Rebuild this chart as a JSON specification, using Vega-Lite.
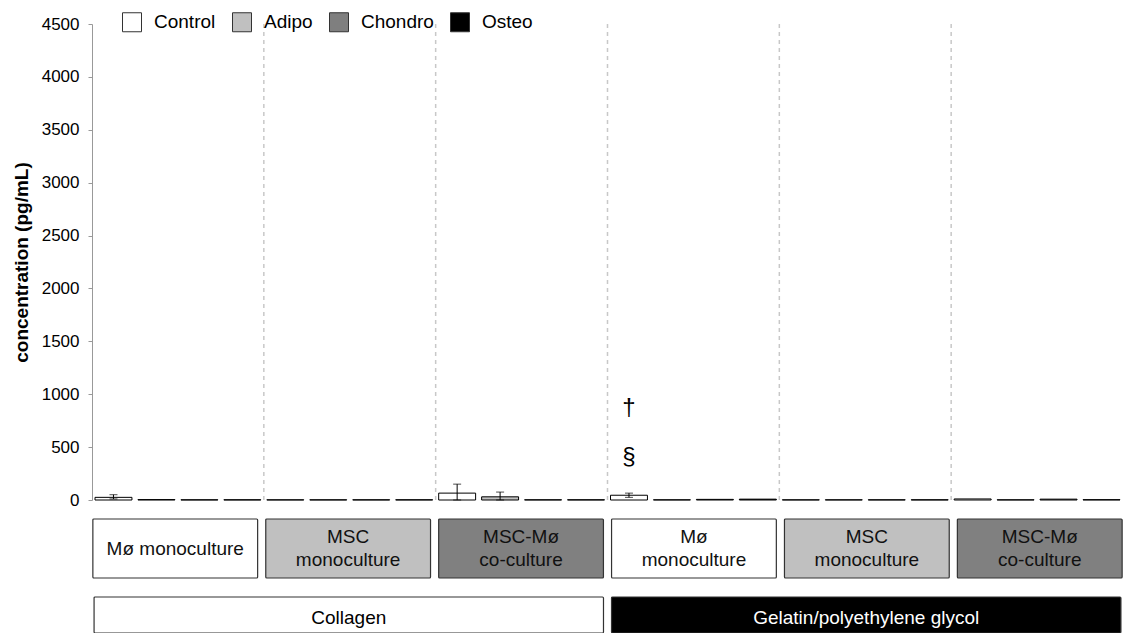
{
  "$schema": "https://vega.github.io/schema/vega-lite/v6.json",
  "padding": {"left": 12, "top": 12, "right": 0, "bottom": 0},
  "background": "#ffffff",
  "config": {"view": {"stroke": null}, "font": "Liberation Sans"},
  "bounds": "flush",
  "spacing": 19,
  "resolve": {"scale": {"x": "independent", "color": "independent", "fill": "independent"}, "legend": {"color": "independent"}},
  "datasets": {
    "bars": [
      {"group": "Collagen: Mø monoculture", "treatment": "Control", "value": 25},
      {"group": "Collagen: Mø monoculture", "treatment": "Adipo", "value": 4},
      {"group": "Collagen: Mø monoculture", "treatment": "Chondro", "value": 2},
      {"group": "Collagen: Mø monoculture", "treatment": "Osteo", "value": 2},
      {"group": "Collagen: MSC monoculture", "treatment": "Control", "value": 2},
      {"group": "Collagen: MSC monoculture", "treatment": "Adipo", "value": 2},
      {"group": "Collagen: MSC monoculture", "treatment": "Chondro", "value": 2},
      {"group": "Collagen: MSC monoculture", "treatment": "Osteo", "value": 2},
      {"group": "Collagen: MSC-Mø co-culture", "treatment": "Control", "value": 65},
      {"group": "Collagen: MSC-Mø co-culture", "treatment": "Adipo", "value": 30},
      {"group": "Collagen: MSC-Mø co-culture", "treatment": "Chondro", "value": 2},
      {"group": "Collagen: MSC-Mø co-culture", "treatment": "Osteo", "value": 2},
      {"group": "Gelatin/polyethylene glycol: Mø monoculture", "treatment": "Control", "value": 45},
      {"group": "Gelatin/polyethylene glycol: Mø monoculture", "treatment": "Adipo", "value": 2},
      {"group": "Gelatin/polyethylene glycol: Mø monoculture", "treatment": "Chondro", "value": 6},
      {"group": "Gelatin/polyethylene glycol: Mø monoculture", "treatment": "Osteo", "value": 8},
      {"group": "Gelatin/polyethylene glycol: MSC monoculture", "treatment": "Control", "value": 2},
      {"group": "Gelatin/polyethylene glycol: MSC monoculture", "treatment": "Adipo", "value": 2},
      {"group": "Gelatin/polyethylene glycol: MSC monoculture", "treatment": "Chondro", "value": 2},
      {"group": "Gelatin/polyethylene glycol: MSC monoculture", "treatment": "Osteo", "value": 2},
      {"group": "Gelatin/polyethylene glycol: MSC-Mø co-culture", "treatment": "Control", "value": 10},
      {"group": "Gelatin/polyethylene glycol: MSC-Mø co-culture", "treatment": "Adipo", "value": 2},
      {"group": "Gelatin/polyethylene glycol: MSC-Mø co-culture", "treatment": "Chondro", "value": 8},
      {"group": "Gelatin/polyethylene glycol: MSC-Mø co-culture", "treatment": "Osteo", "value": 3}
    ],
    "errors": [
      {"group": "Collagen: Mø monoculture", "treatment": "Control", "lo": 10, "hi": 50},
      {"group": "Collagen: MSC-Mø co-culture", "treatment": "Control", "lo": 0, "hi": 150},
      {"group": "Collagen: MSC-Mø co-culture", "treatment": "Adipo", "lo": 0, "hi": 75},
      {"group": "Gelatin/polyethylene glycol: Mø monoculture", "treatment": "Control", "lo": 25, "hi": 65}
    ],
    "notes": [
      {"group": "Gelatin/polyethylene glycol: Mø monoculture", "treatment": "Control", "symbol": "†", "value": 870},
      {"group": "Gelatin/polyethylene glycol: Mø monoculture", "treatment": "Control", "symbol": "§", "value": 406}
    ],
    "seps": [
      {"group": "Collagen: MSC monoculture"},
      {"group": "Collagen: MSC-Mø co-culture"},
      {"group": "Gelatin/polyethylene glycol: Mø monoculture"},
      {"group": "Gelatin/polyethylene glycol: MSC monoculture"},
      {"group": "Gelatin/polyethylene glycol: MSC-Mø co-culture"}
    ],
    "cultures": [
      {"group": "Collagen: Mø monoculture", "culture": "Mø monoculture", "label": "Mø monoculture"},
      {"group": "Collagen: MSC monoculture", "culture": "MSC monoculture", "label": "MSC\nmonoculture"},
      {"group": "Collagen: MSC-Mø co-culture", "culture": "MSC-Mø co-culture", "label": "MSC-Mø\nco-culture"},
      {"group": "Gelatin/polyethylene glycol: Mø monoculture", "culture": "Mø monoculture", "label": "Mø\nmonoculture"},
      {"group": "Gelatin/polyethylene glycol: MSC monoculture", "culture": "MSC monoculture", "label": "MSC\nmonoculture"},
      {"group": "Gelatin/polyethylene glycol: MSC-Mø co-culture", "culture": "MSC-Mø co-culture", "label": "MSC-Mø\nco-culture"}
    ],
    "materials": [
      {"material": "Collagen"},
      {"material": "Gelatin/polyethylene glycol"}
    ]
  },
  "vconcat": [
    {
      "width": 1031,
      "height": 476,
      "encoding": {
        "x": {"field": "group", "type": "nominal", "sort": null, "axis": null,
              "scale": {"domain": ["Collagen: Mø monoculture", "Collagen: MSC monoculture", "Collagen: MSC-Mø co-culture", "Gelatin/polyethylene glycol: Mø monoculture", "Gelatin/polyethylene glycol: MSC monoculture", "Gelatin/polyethylene glycol: MSC-Mø co-culture"], "paddingInner": 0, "paddingOuter": 0}}
      },
      "layer": [
        {
          "data": {"name": "seps"},
          "mark": {"type": "rule", "color": "#c8c8c8", "strokeDash": [4, 4], "strokeWidth": 1.5},
          "encoding": {"x": {"field": "group", "type": "nominal", "bandPosition": 0, "axis": null}}
        },
        {
          "data": {"name": "bars"},
          "mark": {"type": "bar", "stroke": "#000000", "strokeWidth": 1},
          "encoding": {
            "xOffset": {"field": "treatment", "type": "nominal", "scale": {"domain": ["Control", "Adipo", "Chondro", "Osteo"], "paddingInner": 0.14, "paddingOuter": 0.07}},
            "y": {"field": "value", "type": "quantitative",
                  "scale": {"domain": [0, 4500]},
                  "axis": {"title": "concentration (pg/mL)", "titleFontSize": 19, "titleFontWeight": "bold", "titleColor": "#000", "titlePadding": 10,
                           "values": [0, 500, 1000, 1500, 2000, 2500, 3000, 3500, 4000, 4500], "format": "d", "labelFontSize": 17, "labelColor": "#000", "labelPadding": 9,
                           "grid": false, "domainColor": "#999", "tickColor": "#999", "tickSize": 4}},
            "color": {"field": "treatment", "type": "nominal",
                      "scale": {"domain": ["Control", "Adipo", "Chondro", "Osteo"], "range": ["#ffffff", "#c0c0c0", "#7f7f7f", "#000000"]},
                      "legend": {"orient": "none", "legendX": 30, "legendY": -12, "direction": "horizontal", "title": null,
                                 "labelFontSize": 19, "labelColor": "#000", "symbolType": "square", "symbolSize": 361,
                                 "symbolStrokeColor": "#333", "symbolStrokeWidth": 1, "columnPadding": 14, "labelOffset": 12, "padding": 0}}
          }
        },
        {
          "data": {"name": "errors"},
          "mark": {"type": "rule", "color": "#000000", "strokeWidth": 1},
          "encoding": {
            "xOffset": {"field": "treatment", "type": "nominal"},
            "y": {"field": "lo", "type": "quantitative"},
            "y2": {"field": "hi"}
          }
        },
        {
          "data": {"name": "errors"},
          "mark": {"type": "tick", "color": "#000000", "thickness": 1, "size": 8, "orient": "horizontal"},
          "encoding": {
            "xOffset": {"field": "treatment", "type": "nominal"},
            "y": {"field": "hi", "type": "quantitative"}
          }
        },
        {
          "data": {"name": "errors"},
          "mark": {"type": "tick", "color": "#000000", "thickness": 1, "size": 8, "orient": "horizontal"},
          "encoding": {
            "xOffset": {"field": "treatment", "type": "nominal"},
            "y": {"field": "lo", "type": "quantitative"}
          }
        },
        {
          "data": {"name": "notes"},
          "mark": {"type": "text", "fontSize": 24, "color": "#000", "baseline": "middle"},
          "encoding": {
            "xOffset": {"field": "treatment", "type": "nominal"},
            "y": {"field": "value", "type": "quantitative"},
            "text": {"field": "symbol"}
          }
        }
      ]
    },
    {
      "width": 1031,
      "height": 59,
      "data": {"name": "cultures"},
      "encoding": {
        "x": {"field": "group", "type": "nominal", "sort": null, "axis": null, "scale": {"paddingInner": 0.047, "paddingOuter": 0.005}}
      },
      "layer": [
        {
          "mark": {"type": "bar", "stroke": "#333333", "strokeWidth": 1.2, "cornerRadius": 1},
          "encoding": {
            "fill": {"field": "culture", "type": "nominal", "legend": null,
                     "scale": {"domain": ["Mø monoculture", "MSC monoculture", "MSC-Mø co-culture"], "range": ["#ffffff", "#c0c0c0", "#808080"]}}
          }
        },
        {
          "transform": [{"filter": "indexof(datum.label, '\\n') < 0"}],
          "mark": {"type": "text", "fontSize": 19, "color": "#111111", "baseline": "middle"},
          "encoding": {"text": {"field": "label"}}
        },
        {
          "transform": [{"filter": "indexof(datum.label, '\\n') >= 0"}],
          "mark": {"type": "text", "fontSize": 19, "lineBreak": "\n", "lineHeight": 23, "color": "#111111", "baseline": "middle", "dy": -11.5},
          "encoding": {"text": {"field": "label"}}
        }
      ]
    },
    {
      "width": 1031,
      "height": 36,
      "data": {"name": "materials"},
      "encoding": {
        "x": {"field": "material", "type": "nominal", "sort": null, "axis": null, "scale": {"paddingInner": 0.0155, "paddingOuter": 0.004}}
      },
      "layer": [
        {
          "mark": {"type": "bar", "stroke": "#333333", "strokeWidth": 1.2, "cornerRadius": 1},
          "encoding": {
            "fill": {"field": "material", "type": "nominal", "legend": null,
                     "scale": {"domain": ["Collagen", "Gelatin/polyethylene glycol"], "range": ["#ffffff", "#000000"]}}
          }
        },
        {
          "mark": {"type": "text", "fontSize": 19, "baseline": "middle", "dy": 3},
          "encoding": {
            "text": {"field": "material"},
            "color": {"field": "material", "type": "nominal", "legend": null,
                      "scale": {"domain": ["Collagen", "Gelatin/polyethylene glycol"], "range": ["#000000", "#ffffff"]}}
          }
        }
      ]
    }
  ]
}
